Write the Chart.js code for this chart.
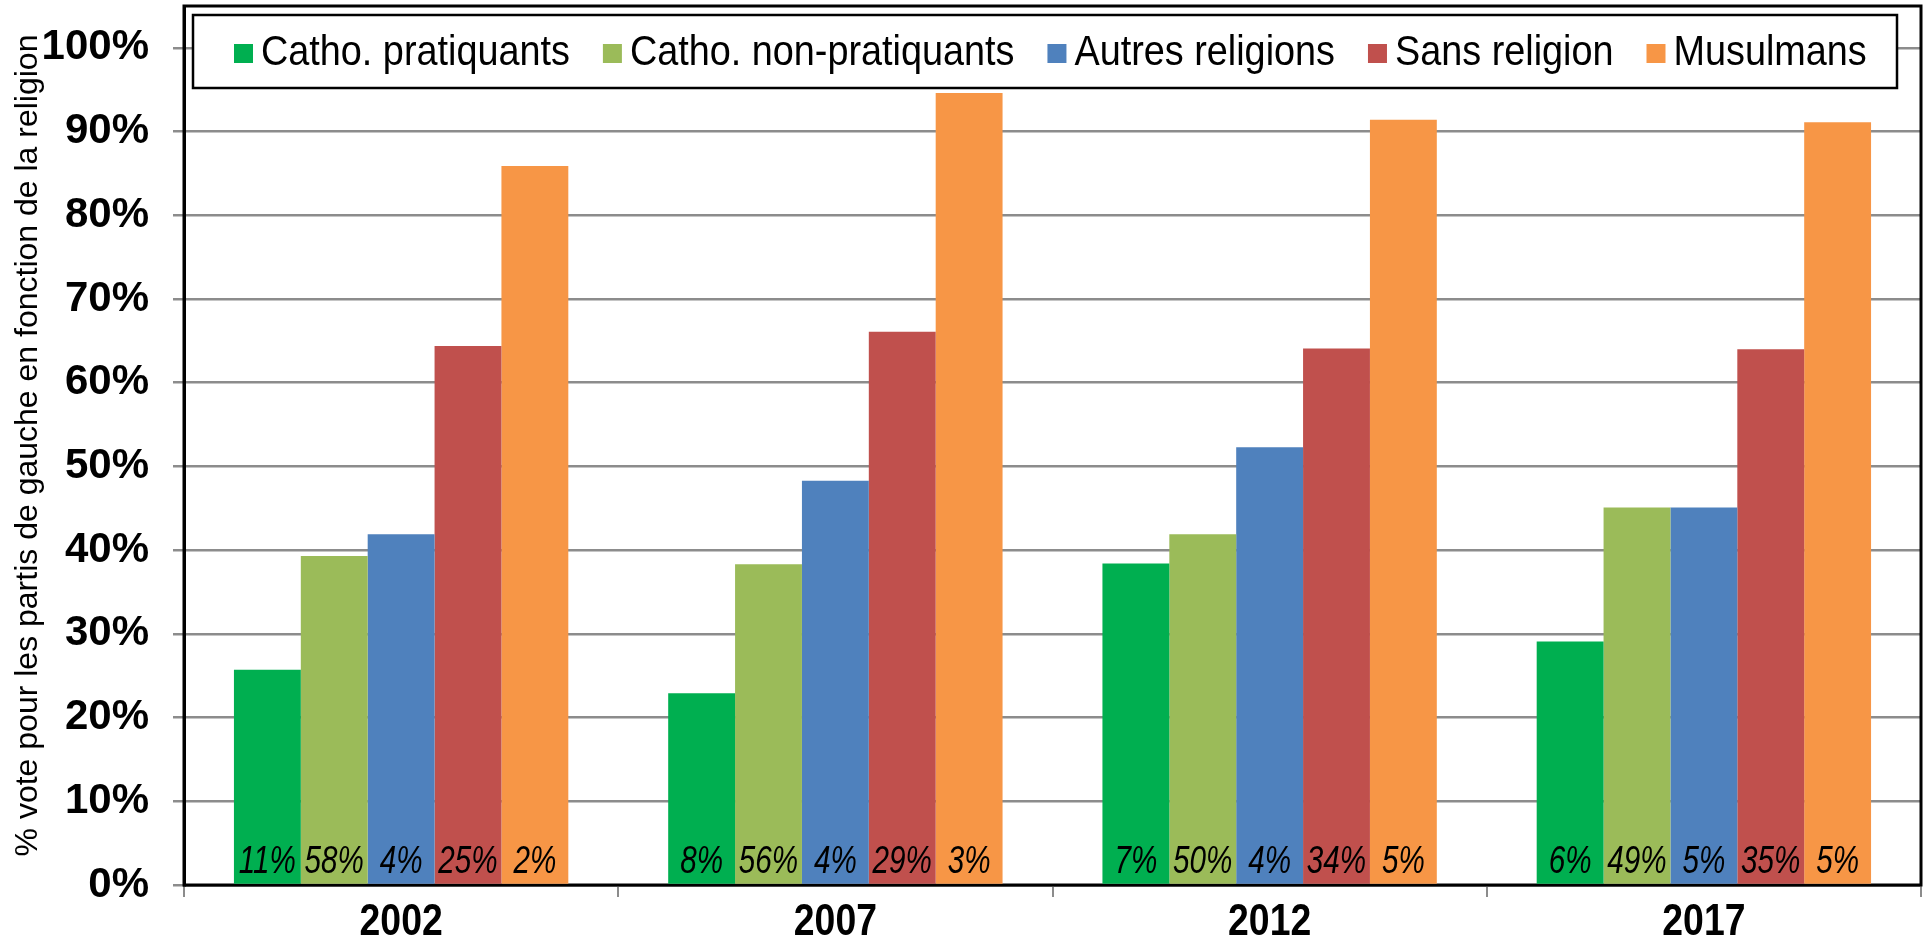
<!DOCTYPE html>
<html lang="fr">
<head>
<meta charset="utf-8">
<title>Vote à gauche selon la religion</title>
<script src="https://cdn.jsdelivr.net/npm/chart.js@4.4.1/dist/chart.umd.min.js"></script>
<style>
  html, body { margin: 0; padding: 0; background: #fff; }
  #wrap { width: 1926px; height: 950px; }
</style>
</head>
<body>
<div id="wrap"><canvas id="chart" width="1926" height="950"></canvas></div>
<script>
const years = ['2002', '2007', '2012', '2017'];
const seriesNames = ['Catho. pratiquants', 'Catho. non-pratiquants', 'Autres religions', 'Sans religion', 'Musulmans'];
const seriesColors = ['#00AF50', '#9BBB59', '#4F81BD', '#C0504D', '#F79646'];

// % de vote pour les partis de gauche
const cathoPratiquants = [25.7, 22.9, 38.4, 29.1];
const cathoNonPratiquants = [39.3, 38.3, 41.9, 45.1];
const autresReligions = [41.9, 48.3, 52.3, 45.1];
const sansReligion = [64.4, 66.1, 64.1, 64.0];
const musulmans = [85.9, 94.6, 91.4, 91.1];

// poids de chaque groupe (texte en bas des barres)
const partPratiquants = ['11%', '8%', '7%', '6%'];
const partNonPratiquants = ['58%', '56%', '50%', '49%'];
const partAutres = ['4%', '4%', '4%', '5%'];
const partSans = ['25%', '29%', '34%', '35%'];
const partMusulmans = ['2%', '3%', '5%', '5%'];

const yTickValues = [0, 10, 20, 30, 40, 50, 60, 70, 80, 90, 100];
const yTitle = '% vote pour les partis de gauche en fonction de la religion';

const allValues = [cathoPratiquants, cathoNonPratiquants, autresReligions, sansReligion, musulmans];
const allShares = [partPratiquants, partNonPratiquants, partAutres, partSans, partMusulmans];

const datasets = allValues.map((vals, i) => ({
    label: seriesNames[i],
    data: vals,
    backgroundColor: seriesColors[i],
    borderWidth: 0,
    shares: allShares[i]
}));

const SANS = '"Liberation Sans", Arial, sans-serif';

// text squeezed horizontally (the original fonts are narrow)
function squeezedText(ctx, text, x, y, sx) {
    ctx.save();
    ctx.translate(x, y);
    ctx.scale(sx, 1);
    ctx.fillText(text, 0, 0);
    ctx.restore();
}

// cadre noir + légende encadrée + étiquettes
const decorations = {
    id: 'decorations',
    beforeDatasetsDraw(chart) {
        const a = chart.chartArea, ctx = chart.ctx;
        ctx.save();
        ctx.strokeStyle = '#000';
        ctx.lineWidth = 3;
        ctx.strokeRect(a.left, a.top, a.right - a.left, a.bottom - a.top);
        ctx.restore();
    },
    afterDatasetsDraw(chart) {
        const a = chart.chartArea, ctx = chart.ctx;
        const xScale = chart.scales.x;
        ctx.save();
        ctx.fillStyle = '#000';
        ctx.textAlign = 'center';
        ctx.textBaseline = 'middle';

        // shares inside bars
        ctx.font = 'italic 38px ' + SANS;
        chart.data.datasets.forEach((ds, i) => {
            chart.getDatasetMeta(i).data.forEach((bar, j) => {
                squeezedText(ctx, ds.shares[j], bar.x, a.bottom - 23, 0.78);
            });
        });

        // year labels
        ctx.font = 'bold 44px ' + SANS;
        years.forEach((yr, j) => {
            squeezedText(ctx, yr, xScale.getPixelForValue(j), 923, 0.85);
        });

        // legend box
        const bx = a.left + 9, by = 15, bw = a.right - a.left - 33, bh = 73;
        ctx.fillStyle = '#fff';
        ctx.fillRect(bx, by, bw, bh);
        ctx.strokeStyle = '#000';
        ctx.lineWidth = 2.5;
        ctx.strokeRect(bx, by, bw, bh);

        ctx.font = '42px ' + SANS;
        ctx.textAlign = 'left';
        const sx = 0.9, sq = 19, gapText = 8, gapItem = 33;
        let x = bx + 41;
        const cy = by + bh / 2 + 2;
        chart.data.datasets.forEach(ds => {
            ctx.fillStyle = ds.backgroundColor;
            ctx.fillRect(x, cy - sq / 2, sq, sq);
            ctx.fillStyle = '#000';
            squeezedText(ctx, ds.label, x + sq + gapText, cy, sx);
            x += sq + gapText + ctx.measureText(ds.label).width * sx + gapItem;
        });
        ctx.restore();
    }
};

new Chart(document.getElementById('chart'), {
    type: 'bar',
    data: { labels: years, datasets: datasets },
    plugins: [decorations],
    options: {
        responsive: false,
        animation: false,
        layout: { padding: { top: 6, right: 5, left: 0, bottom: 0 } },
        datasets: { bar: { categoryPercentage: 0.77, barPercentage: 1.0 } },
        plugins: {
            legend: { display: false },
            tooltip: { enabled: false }
        },
        scales: {
            x: {
                grid: { display: true, drawOnChartArea: false, color: '#8c8c8c', lineWidth: 2, tickLength: 12, offset: true },
                border: { display: true, color: '#8c8c8c', width: 3 },
                ticks: { display: false },
                afterFit(scale) {
                    scale.height = 65;
                    scale.paddingLeft = 0;
                    scale.paddingRight = 0;
                }
            },
            y: {
                min: 0,
                max: 105,
                afterBuildTicks(scale) {
                    scale.ticks = yTickValues.map(v => ({ value: v }));
                },
                grid: { color: '#8c8c8c', lineWidth: 2.5, tickLength: 11 },
                border: { display: true, color: '#000', width: 3 },
                ticks: {
                    color: '#000',
                    padding: 24,
                    font: { family: SANS, size: 42, weight: 'bold' },
                    callback: v => v + '%'
                },
                title: {
                    display: true,
                    text: yTitle,
                    color: '#000',
                    padding: { top: 9, bottom: 0 },
                    font: { family: SANS, size: 32 }
                },
                afterFit(scale) {
                    scale.width = 184;
                    scale.paddingTop = 0;
                    scale.paddingBottom = 0;
                }
            }
        }
    }
});
</script>
</body>
</html>
